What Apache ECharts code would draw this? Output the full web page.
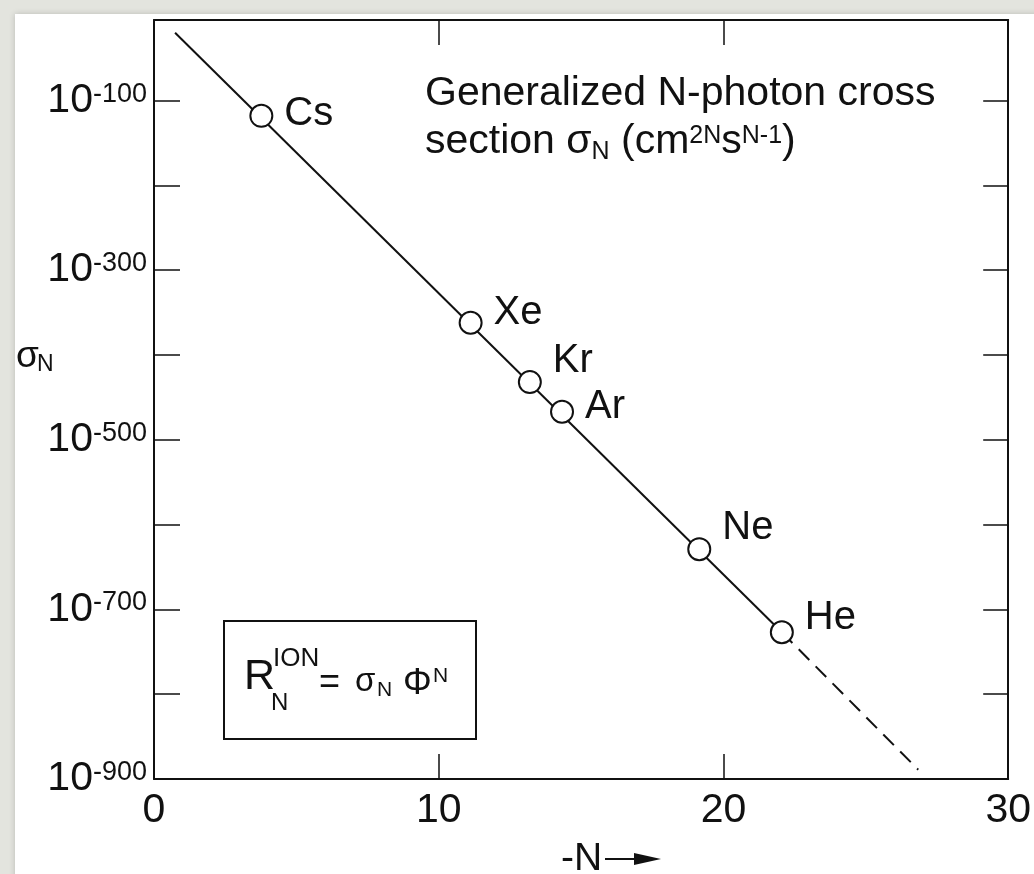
<!DOCTYPE html>
<html>
<head>
<meta charset="utf-8">
<script src="https://cdn.jsdelivr.net/npm/echarts@6/dist/echarts.min.js"></script>
<style>
  html, body { margin: 0; padding: 0; background: #e3e4de; }
  #chart { width: 1034px; height: 874px; }
</style>
</head>
<body>
<div id="chart"></div>
<script>
// ---- data ----
const elements = ['Cs', 'Xe', 'Kr', 'Ar', 'Ne', 'He'];
const photonN = [3.77, 11.12, 13.20, 14.33, 19.15, 22.05];      // -N axis
const logSigma = [-118, -362, -432, -467, -629, -727];         // exponent of sigma_N
const fitN = [0.74, 22.05];
const fitLogSigma = [-20, -727];
const extrapN = [22.05, 26.84];
const extrapLogSigma = [-727, -889];
const yLabelExponents = [-100, -300, -500, -700, -900];
const xTickValues = [0, 10, 20, 30];

// ---- layout only (label nudges) ----
const labelDy = [-2, -10, -21, -5, -21, -14];

const FONT = '"Liberation Sans", Arial, Helvetica, sans-serif';
const INK = '#111111';

const chart = echarts.init(document.getElementById('chart'), null, { renderer: 'canvas' });

const pairs = (xs, ys) => xs.map((x, i) => [x, ys[i]]);

const atomData = elements.map((name, i) => ({
  name: name,
  value: [photonN[i], logSigma[i]],
  label: { offset: [0, labelDy[i]] }
}));

const axisLine = { show: true, onZero: false, lineStyle: { color: INK, width: 2 } };
const tickStyle = { color: INK, width: 1.5 };

const yLabelFormatter = v => yLabelExponents.indexOf(Math.round(v)) >= 0 ? '{b|10}{s|' + Math.round(v) + '}' : '';

const option = {
  backgroundColor: '#e3e4de',
  animation: false,
  grid: { left: 154, right: 22, top: 20, bottom: 95, containLabel: false },
  xAxis: [
    {
      type: 'value', position: 'bottom', min: xTickValues[0], max: xTickValues[xTickValues.length - 1], interval: 10,
      axisLine: axisLine,
      axisTick: { show: true, inside: true, length: 25, lineStyle: tickStyle },
      axisLabel: { show: true, fontSize: 41, fontFamily: FONT, color: INK, margin: 11, lineHeight: 41 },
      splitLine: { show: false }
    },
    {
      type: 'value', position: 'top', min: xTickValues[0], max: xTickValues[xTickValues.length - 1], interval: 10,
      axisLine: axisLine,
      axisTick: { show: true, inside: true, length: 25, lineStyle: tickStyle },
      axisLabel: { show: false },
      splitLine: { show: false }
    }
  ],
  yAxis: [
    {
      type: 'value', position: 'left', min: -900, max: -5, interval: 100,
      axisLine: axisLine,
      axisTick: { show: true, inside: true, length: 26, lineStyle: tickStyle },
      axisLabel: {
        show: true, margin: 7, color: INK, fontFamily: FONT,
        formatter: yLabelFormatter,
        rich: {
          b: { fontSize: 41, lineHeight: 41, fontFamily: FONT, color: INK },
          s: { fontSize: 27, lineHeight: 14, padding: [0, 0, 13, 0], fontFamily: FONT, color: INK }
        }
      },
      splitLine: { show: false }
    },
    {
      type: 'value', position: 'right', min: -900, max: -5, interval: 100,
      axisLine: axisLine,
      axisTick: { show: true, inside: true, length: 25, lineStyle: tickStyle },
      axisLabel: { show: false },
      splitLine: { show: false }
    }
  ],
  graphic: [
    {
      type: 'rect', z: -100, silent: true,
      shape: { x: 15, y: 14, width: 1030, height: 870 },
      style: { fill: '#ffffff', shadowBlur: 6, shadowColor: 'rgba(0,0,0,0.18)' }
    },
    // title annotation
    {
      type: 'text', silent: true, x: 425, y: 94,
      style: { text: 'Generalized N-photon cross', fontSize: 41, fontFamily: FONT, fill: INK, align: 'left', verticalAlign: 'middle' }
    },
    {
      type: 'text', silent: true, x: 425, y: 142,
      style: {
        text: '{t|section σ}{sb|N}{t| (cm}{sp|2N}{t|s}{sp|N-1}{t|)}',
        align: 'left', verticalAlign: 'middle', fill: INK,
        rich: {
          t: { fontSize: 41, lineHeight: 48, fontFamily: FONT, fill: INK },
          sb: { fontSize: 25, lineHeight: 14, padding: [20, 0, 0, 0], fontFamily: FONT, fill: INK },
          sp: { fontSize: 25, lineHeight: 14, padding: [0, 0, 12, 0], fontFamily: FONT, fill: INK }
        }
      }
    },
    // formula box
    {
      type: 'rect', silent: true,
      shape: { x: 224, y: 621, width: 252, height: 118 },
      style: { fill: '#ffffff', stroke: INK, lineWidth: 2 }
    },
    { type: 'text', silent: true, x: 244, y: 677, style: { text: 'R', fontSize: 43, fontFamily: FONT, fill: INK, align: 'left', verticalAlign: 'middle' } },
    { type: 'text', silent: true, x: 273, y: 659, style: { text: 'ION', fontSize: 26, fontFamily: FONT, fill: INK, align: 'left', verticalAlign: 'middle' } },
    { type: 'text', silent: true, x: 271, y: 703, style: { text: 'N', fontSize: 24, fontFamily: FONT, fill: INK, align: 'left', verticalAlign: 'middle' } },
    { type: 'text', silent: true, x: 319, y: 683, style: { text: '=', fontSize: 36, fontFamily: FONT, fill: INK, align: 'left', verticalAlign: 'middle' } },
    { type: 'text', silent: true, x: 355, y: 682, style: { text: 'σ', fontSize: 33, fontFamily: FONT, fill: INK, align: 'left', verticalAlign: 'middle' } },
    { type: 'text', silent: true, x: 377, y: 690, style: { text: 'N', fontSize: 21, fontFamily: FONT, fill: INK, align: 'left', verticalAlign: 'middle' } },
    { type: 'text', silent: true, x: 403, y: 684, style: { text: 'Φ', fontSize: 36, fontFamily: FONT, fill: INK, align: 'left', verticalAlign: 'middle' } },
    { type: 'text', silent: true, x: 433, y: 676, style: { text: 'N', fontSize: 21, fontFamily: FONT, fill: INK, align: 'left', verticalAlign: 'middle' } },
    // y axis name
    { type: 'text', silent: true, x: 16, y: 357, style: { text: 'σ', fontSize: 37, fontFamily: FONT, fill: INK, align: 'left', verticalAlign: 'middle' } },
    { type: 'text', silent: true, x: 37, y: 365, style: { text: 'N', fontSize: 23, fontFamily: FONT, fill: INK, align: 'left', verticalAlign: 'middle' } },
    // x axis name with arrow
    { type: 'text', silent: true, x: 561, y: 859, style: { text: '-N', fontSize: 39, fontFamily: FONT, fill: INK, align: 'left', verticalAlign: 'middle' } },
    { type: 'line', silent: true, shape: { x1: 605, y1: 859, x2: 640, y2: 859 }, style: { stroke: INK, lineWidth: 2 } },
    { type: 'polygon', silent: true, shape: { points: [[634, 853], [661, 859], [634, 865]] }, style: { fill: INK } }
  ],
  series: [
    {
      name: 'fit', type: 'line', xAxisIndex: 0, yAxisIndex: 0,
      data: pairs(fitN, fitLogSigma), symbol: 'none', z: 2,
      lineStyle: { color: INK, width: 2 }
    },
    {
      name: 'extrapolation', type: 'line', xAxisIndex: 0, yAxisIndex: 0,
      data: pairs(extrapN, extrapLogSigma), symbol: 'none', z: 2,
      lineStyle: { color: INK, width: 2, type: [15, 9] }
    },
    {
      name: 'atoms', type: 'scatter', xAxisIndex: 0, yAxisIndex: 0, z: 5,
      data: atomData, symbol: 'circle', symbolSize: 22,
      itemStyle: { color: '#ffffff', borderColor: INK, borderWidth: 2, opacity: 1 },
      label: {
        show: true, position: 'right', distance: 11, formatter: '{b}',
        fontSize: 40, fontFamily: FONT, color: INK
      },
      emphasis: { disabled: true }
    }
  ]
};

chart.setOption(option);
</script>
</body>
</html>
